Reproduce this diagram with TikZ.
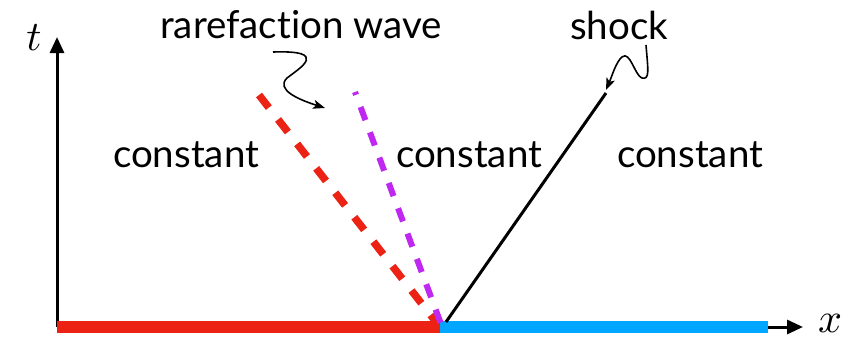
\documentclass[tikz,border=0pt]{standalone}
\usepackage{fontspec}
\setmainfont[Ligatures=CommonOff]{Lato}
\usetikzlibrary{arrows.meta}
\definecolor{rred}{RGB}{236,34,20}
\definecolor{bblue}{RGB}{0,166,255}
\definecolor{ppurple}{RGB}{190,40,240}
\begin{document}
\begin{tikzpicture}[x=1pt,y=-1pt,
  lbl/.style={font=\fontsize{38.5}{44}\selectfont, inner sep=0pt},
  axis/.style={line width=3pt, -{Triangle[length=16pt,width=14pt]}},
  squig/.style={line width=1.6pt, -{Stealth[length=12pt,width=9pt,inset=3pt]}}]
\useasboundingbox (0,0) rectangle (855,346);
\coordinate (O) at (57,327);
\coordinate (M) at (440,327);
\coordinate (B) at (768,327);
\coordinate (T) at (57,37);
\coordinate (X) at (803,327);
\draw[axis] (O) -- (T);
\draw[axis] (O) -- (X);
\draw[rred, line width=12pt] (O) -- (M);
\draw[bblue, line width=12pt] (M) -- (B);
\node (tl) at (34,38) {\scalebox{4.2}{$t$}};
\node (xl) at (830,323) {\scalebox{4.2}{$x$}};
\coordinate (R0) at (436,322);
\coordinate (R1) at (259,95);
\coordinate (P1) at (355,92);
\coordinate (P0) at (441,324);
\coordinate (S0) at (446,322);
\coordinate (S1) at (606,93);
\draw[rred, line width=7.5pt, dash pattern=on 16pt off 15pt] (R1) -- (R0);
\draw[ppurple, line width=6pt, dash pattern=on 14pt off 13pt, dash phase=11pt] (P1) -- (P0);
\draw[line width=3pt] (S0) -- (S1);
\node[lbl] (c1) at (186,155) {constant};
\node[lbl] (c2) at (469,155) {constant};
\node[lbl] (c3) at (690,155) {constant};
\node[lbl] (rw) at (301,25) {rarefaction wave};
\node[lbl] (sh) at (619,25) {shock};
\coordinate (ra) at (273,52);
\coordinate (rb) at (325,108);
\draw[squig] (ra) .. controls (330,50) and (300,68) .. (287,78) .. controls (275,90) and (300,100) .. (rb);
\coordinate (sa) at (646,45);
\coordinate (sb) at (606,90);
\draw[squig] (sa) .. controls (648,70) and (650,80) .. (642,78) .. controls (635,76) and (630,50) .. (622,57) .. controls (616,62) and (612,76) .. (sb);
\end{tikzpicture}
\end{document}
